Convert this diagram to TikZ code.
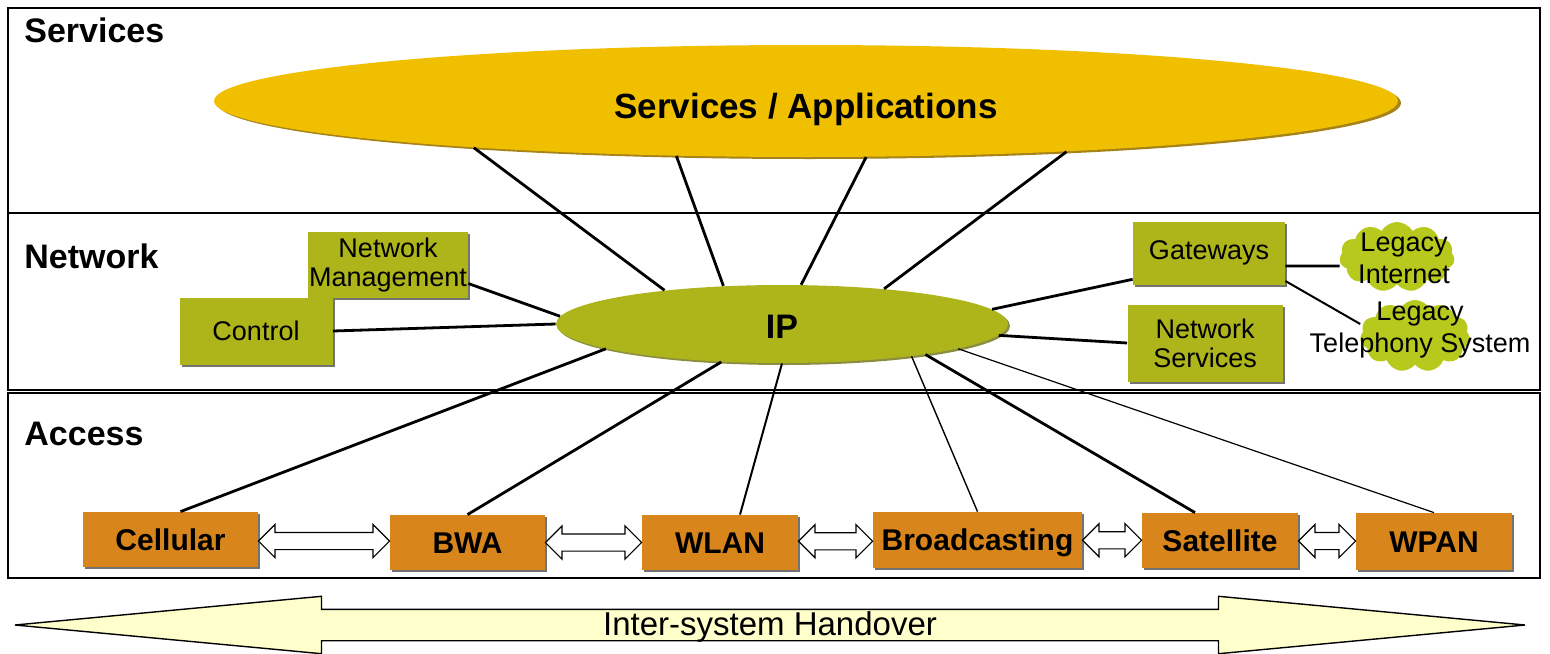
\documentclass[tikz,border=0pt]{standalone}
\usepackage{fontspec}
\setmainfont{Liberation Sans}
\usetikzlibrary{shapes.geometric,shapes.arrows,shapes.symbols,shadows,calc}
\definecolor{svcyellow}{HTML}{F0C000}
\definecolor{svcdark}{HTML}{9C7600}
\definecolor{olivebox}{HTML}{AEB51B}
\definecolor{olivedark}{HTML}{6E7210}
\definecolor{cloudgreen}{HTML}{B8C91E}
\definecolor{orangebox}{HTML}{D8861B}
\definecolor{paleyellow}{HTML}{FFFFCC}
\begin{document}
\begin{tikzpicture}[x=0.5pt,y=-0.5pt,
  layerframe/.style={draw=black, line width=1pt},
  sect/.style={anchor=base west, inner sep=0pt, font=\fontsize{17}{20}\selectfont\bfseries},
  netbox/.style={rectangle, fill=olivebox, inner sep=0pt, align=center,
    font=\fontsize{13.5}{14.5}\selectfont,
    drop shadow={shadow xshift=1.2pt, shadow yshift=-1.2pt, fill=black, opacity=0.55}},
  accbox/.style={rectangle, fill=orangebox, inner sep=0pt,
    text height=13pt, text depth=2.3pt,
    font=\fontsize{15}{18}\selectfont\bfseries,
    drop shadow={shadow xshift=1.2pt, shadow yshift=-1.2pt, fill=black, opacity=0.55}},
  cloudy/.style={cloud, cloud puffs=11, cloud puff arc=120, cloud ignores aspect,
    fill=cloudgreen, inner sep=0pt},
  cloudtext/.style={align=center, inner sep=0pt, font=\fontsize{13.5}{16}\selectfont},
  conn/.style={draw=black, line width=1.4pt},
  harrow/.style={double arrow, draw=black, fill=white, line width=0.6pt,
    inner xsep=0pt, inner ysep=4pt, minimum width=1pt,
    double arrow head extend=4pt, double arrow tip angle=90},
  bigarrow/.style={double arrow, draw=black, fill=paleyellow, line width=0.7pt,
    inner xsep=0pt, inner ysep=0.75pt, text height=12pt, text depth=1.5pt,
    minimum width=1pt, minimum height=755pt,
    double arrow head extend=6.5pt, double arrow tip angle=10.7,
    font=\fontsize{16.5}{18}\selectfont}
]
\useasboundingbox (0,0) rectangle (1550,653);

% layer frames
\draw[layerframe] (8,8) rectangle (1540,213);
\draw[layerframe] (8,213) rectangle (1540,390);
\draw[layerframe] (8,393) rectangle (1540,578);

% layer titles
\node[sect] (tsvc) at (24,42) {Services};
\node[sect] (tnet) at (24,268) {Network};
\node[sect] (tacc) at (24,445) {Access};

% services ellipse
\node[ellipse, fill=svcyellow, minimum width=592pt, minimum height=56pt, inner sep=0pt,
  text height=17pt, text depth=0pt,
  font=\fontsize{17.5}{20}\selectfont\bfseries,
  drop shadow={shadow xshift=1.5pt, shadow yshift=-1pt, fill=svcdark, opacity=0.9}]
  (svc) at (806,101) {Services / Applications};

% IP ellipse
\node[ellipse, fill=olivebox, minimum width=226pt, minimum height=39pt, inner sep=0pt,
  text height=14pt, text depth=0pt,
  font=\fontsize{17}{20}\selectfont\bfseries,
  drop shadow={shadow xshift=1pt, shadow yshift=-1pt, fill=olivedark, opacity=0.8}]
  (ip) at (782,324) {IP};

% network boxes
\node[netbox, minimum width=80pt, minimum height=33pt] (nm) at (388,265) {Network\\Management};
\node[netbox, minimum width=76.5pt, minimum height=33.5pt] (ctrl) at (256,331) {Control};
\node[netbox, minimum width=76pt, minimum height=31.5pt] (gw) at (1209,253) {Gateways};
\node[netbox, minimum width=77.5pt, minimum height=38.5pt] (ns) at (1205,343) {Network\\Services};

% legacy clouds
\node[cloudy, minimum width=57.5pt, minimum height=35pt] (lic) at (1397,257) {};
\node[cloudtext] (lit) at (1404,258) {Legacy\\Internet};
\node[cloudy, minimum width=55pt, minimum height=36pt] (ltc) at (1415,336) {};
\node[cloudtext] (ltt) at (1420,330) {Legacy\\Telephony System};

% access boxes
\node[accbox, minimum width=87.5pt, minimum height=27.5pt] (cell) at (170.5,539.5) {Cellular};
\node[accbox, minimum width=77.5pt, minimum height=27.5pt] (bwa) at (467.5,542.5) {BWA};
\node[accbox, minimum width=78pt, minimum height=27.5pt] (wlan) at (720,542.5) {WLAN};
\node[accbox, minimum width=104.5pt, minimum height=28pt] (bc) at (977.5,540) {Broadcasting};
\node[accbox, minimum width=78pt, minimum height=27.5pt] (sat) at (1220,540.5) {Satellite};
\node[accbox, minimum width=78pt, minimum height=28.5pt] (wpan) at (1434,541.5) {WPAN};

% handover arrows between access systems
\path let \p1=(cell.east), \p2=(bwa.west) in
  node[harrow, minimum height={\x2-\x1}] (h1) at ($(\p1)!0.5!(\p2)$) {};
\path let \p1=(bwa.east), \p2=(wlan.west) in
  node[harrow, minimum height={\x2-\x1}] (h2) at ($(\p1)!0.5!(\p2)$) {};
\path let \p1=(wlan.east), \p2=(bc.west) in
  node[harrow, minimum height={\x2-\x1}] (h3) at ($(\p1)!0.5!(\p2)$) {};
\path let \p1=(bc.east), \p2=(sat.west) in
  node[harrow, minimum height={\x2-\x1}] (h4) at ($(\p1)!0.5!(\p2)$) {};
\path let \p1=(sat.east), \p2=(wpan.west) in
  node[harrow, minimum height={\x2-\x1}] (h5) at ($(\p1)!0.5!(\p2)$) {};

% inter-system handover arrow
\node[bigarrow] (ho) at (770,625) {Inter-system Handover};

% connectors services -> IP
\draw[conn] (svc.188) -- (ip.164);
\draw[conn] (svc.203) -- (ip.147);
\draw[conn] (svc.-43) -- (ip.64);
\draw[conn] (svc.-11) -- (ip.19);

% network connectors
\draw[conn] (nm.-13) -- (ip.178);
\draw[conn] (ctrl.east) -- (ip.180);
\draw[conn] (gw.199) -- (ip.4);
\draw[conn] (ns.west) -- (ip.-3);
\draw[conn] ([yshift=-6.5pt]gw.east) -- ([yshift=-4.5pt]lic.west);
\draw[conn, line width=1pt] ([yshift=-14pt]gw.east) -- ([yshift=6pt]ltc.west);

% access connectors
\draw[conn] (ip.188) -- ([xshift=5pt]cell.north);
\draw[conn] (ip.212) -- (bwa.north);
\draw[conn, line width=1pt] (ip.270) -- ([xshift=10pt]wlan.north);
\draw[conn, line width=0.7pt] (ip.-14) -- (bc.north);
\draw[conn] (ip.-12) -- ([xshift=-12.5pt]sat.north);
\draw[conn, line width=0.6pt] (ip.-8) -- (wpan.north);
\end{tikzpicture}
\end{document}
